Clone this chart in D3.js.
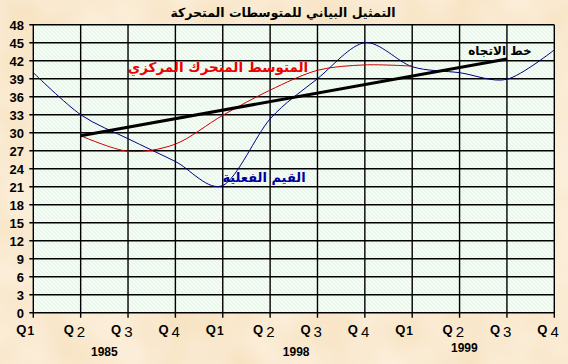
<!DOCTYPE html>
<html>
<head>
<meta charset="utf-8">
<script src="https://cdn.jsdelivr.net/npm/d3@7"></script>
<style>
  body { margin: 0; background: #fae8cc; }
  svg { display: block; }
</style>
</head>
<body>
<svg id="chart"></svg>
<script>
// quarters along the x axis
const quarterNums = ["1", "2", "3", "4", "1", "2", "3", "4", "1", "2", "3", "4"];
const years = [
  { label: "1985", at: 1.5 },
  { label: "1998", at: 5.55 },
  { label: "1999", at: 9.1 }
];

// actual values (blue)
const actual = [40, 33, 29, 25.2, 21.2, 32.3, 39, 45, 41, 40, 38.9, 43.8];
// centered moving average (red), starts at Q2 1985
const movingAvg = [null, 29.5, 26.9, 28.1, 32.9, 37.1, 40.4, 41.3, 41.1];
// trend line end points (index, value)
const trend = [[1, 29.5], [10, 42.3]];

const yTicks = d3.range(0, 49, 3);

const width = 568, height = 364;
const svg = d3.select("#chart").attr("width", width).attr("height", height);

const defs = svg.append("defs");

// paper texture for the page
const tex = defs.append("filter").attr("id", "paper")
  .attr("x", 0).attr("y", 0).attr("width", "100%").attr("height", "100%");
tex.append("feTurbulence").attr("type", "fractalNoise")
  .attr("baseFrequency", 0.02).attr("numOctaves", 2).attr("seed", 4);
tex.append("feColorMatrix").attr("type", "matrix")
  .attr("values", "0 0 0 0 0.99  0 0 0 0 0.94  0 0 0 0 0.86  0 0 0 0.9 -0.2");
tex.append("feComposite").attr("in2", "SourceGraphic").attr("operator", "over");

svg.append("rect").attr("width", width).attr("height", height).attr("fill", "#f8e4c4");
svg.append("rect").attr("width", width).attr("height", height).attr("fill", "#f8e4c4")
  .attr("filter", "url(#paper)");

// hatch pattern for plot area
const pat = defs.append("pattern").attr("id", "hatch")
  .attr("patternUnits", "userSpaceOnUse").attr("width", 4).attr("height", 4);
pat.append("rect").attr("width", 4).attr("height", 4).attr("fill", "#e6f6e6");
pat.append("path").attr("d", "M-1,-1 L5,5 M-1,3 L1,5 M3,-1 L5,1")
  .attr("stroke", "#fafefa").attr("stroke-width", 1.4);

const x = d3.scaleLinear().domain([0, 11]).range([33.3, 554.3]);
const y = d3.scaleLinear().domain([0, 48]).range([312.7, 24.7]);

// plot background
svg.append("rect")
  .attr("x", x(0)).attr("y", y(48))
  .attr("width", x(11) - x(0)).attr("height", y(0) - y(48))
  .attr("fill", "url(#hatch)");

// grid
const grid = svg.append("g").attr("stroke", "#000").attr("stroke-width", 1.4);
grid.selectAll(".h").data(yTicks).enter().append("line")
  .attr("x1", x(0) - 4).attr("x2", x(11))
  .attr("y1", d => y(d)).attr("y2", d => y(d));
grid.selectAll(".v").data(d3.range(12)).enter().append("line")
  .attr("x1", d => x(d)).attr("x2", d => x(d))
  .attr("y1", y(48)).attr("y2", y(0) + 5);

// y labels
svg.append("g").selectAll("text").data(yTicks).enter().append("text")
  .attr("x", 24).attr("y", d => y(d) + 5)
  .attr("text-anchor", "end")
  .attr("font-family", "Liberation Sans, Arial, sans-serif")
  .attr("font-weight", "bold").attr("font-size", 13)
  .text(d => d);

// x labels: Q with subscript digit
const xl = svg.append("g").selectAll("text").data(quarterNums).enter().append("text")
  .attr("x", (d, i) => x(i) - 17)
  .attr("y", 334)
  .attr("font-family", "Liberation Sans, Arial, sans-serif")
  .attr("font-weight", "bold").attr("font-size", 13);
xl.append("tspan").text("Q");
xl.append("tspan")
  .attr("dx", d => d === "1" ? 1 : 3)
  .attr("dy", d => d === "1" ? 1 : 3)
  .attr("font-size", d => d === "1" ? 12 : 15)
  .attr("font-weight", d => d === "1" ? "bold" : "normal")
  .text(d => d);

svg.append("g").selectAll("text").data(years).enter().append("text")
  .attr("x", d => x(d.at)).attr("y", (d, i) => i === 2 ? 352 : 356)
  .attr("text-anchor", "middle")
  .attr("font-family", "Liberation Sans, Arial, sans-serif")
  .attr("font-weight", "bold").attr("font-size", 12)
  .text(d => d.label);

// lines
const smooth = d3.line()
  .x((d, i) => x(i)).y(d => y(d))
  .curve(d3.curveCardinal.tension(0.1));

svg.append("path").datum(actual)
  .attr("d", smooth)
  .attr("fill", "none").attr("stroke", "#000080").attr("stroke-width", 1);

svg.append("path")
  .attr("d", d3.line()
    .x((d, i) => x(i + 1)).y(d => y(d))
    .curve(d3.curveCardinal.tension(0.1))(movingAvg.slice(1)))
  .attr("fill", "none").attr("stroke", "#cc0000").attr("stroke-width", 1);

svg.append("path").datum(trend)
  .attr("d", d3.line().x(d => x(d[0])).y(d => y(d[1])))
  .attr("fill", "none").attr("stroke", "#000").attr("stroke-width", 3);

// Arabic texts
const arab = "DejaVu Sans, sans-serif";
svg.append("text")
  .attr("x", 283).attr("y", 17).attr("text-anchor", "middle")
  .attr("font-family", arab).attr("font-weight", "bold").attr("font-size", 12.5)
  .attr("fill", "#000")
  .text("التمثيل البياني للمتوسطات المتحركة");

svg.append("text")
  .attr("x", 218).attr("y", 72).attr("text-anchor", "middle")
  .attr("font-family", arab).attr("font-weight", "bold").attr("font-size", 13.5)
  .attr("fill", "#ee0000")
  .text("المتوسط المتحرك المركزي");

svg.append("text")
  .attr("x", 264).attr("y", 182).attr("text-anchor", "middle")
  .attr("font-family", arab).attr("font-weight", "bold").attr("font-size", 13)
  .attr("fill", "#0000a0")
  .text("القيم الفعلية");

svg.append("text")
  .attr("x", 500).attr("y", 55).attr("text-anchor", "middle")
  .attr("font-family", arab).attr("font-weight", "bold").attr("font-size", 12)
  .attr("fill", "#000")
  .text("خط الاتجاه");
</script>
</body>
</html>
